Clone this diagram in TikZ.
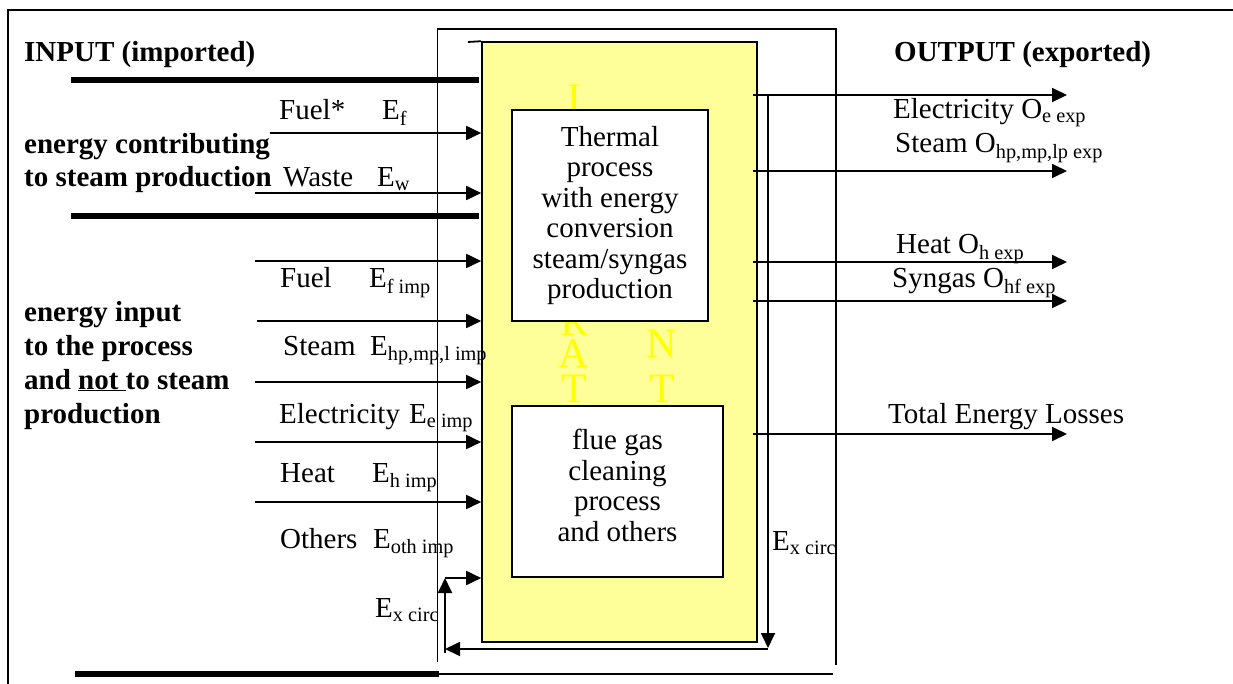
\documentclass[tikz,border=0pt]{standalone}
\usepackage{fontspec}
\setmainfont{Liberation Serif}
\usepackage{tikz}
\usetikzlibrary{arrows.meta,positioning}
\definecolor{plantyellow}{RGB}{255,255,153}
\definecolor{letteryellow}{RGB}{255,255,0}
\newcommand{\elabel}[3]{\makebox[#1][l]{#2}E\textsubscript{#3}}
\tikzset{
  plantbox/.style={rectangle,draw=black,fill=plantyellow,line width=1.6pt,
                   minimum width=275pt,minimum height=600pt,inner sep=0pt},
  procbox/.style={rectangle,draw=black,fill=white,line width=1.6pt,align=center,
                  inner sep=0pt,font=\fontsize{29}{30.5}\selectfont},
  arr/.style={-{Triangle[length=15pt,width=14pt]},line width=1.8pt},
  lbl/.style={anchor=base west,inner sep=0pt,font=\fontsize{29}{33}\selectfont},
  blbl/.style={lbl,font=\fontsize{29}{33}\selectfont\bfseries},
  plantletter/.style={anchor=base,inner sep=0pt,text=letteryellow,
                      font=\fontsize{42}{42}\selectfont},
  thinline/.style={line width=1.8pt},
  bar/.style={line width=5.5pt},
}

\begin{document}
\begin{tikzpicture}[x=1pt,y=-1pt]
  \useasboundingbox (0,0) rectangle (1233,684);
  % frame and system boundary
  \draw[line width=2.5pt] (8,684) -- (8,10) -- (1233,10);
  \draw[thinline] (437.5,662) -- (437.5,29) -- (836,29) -- (836,665);
  \draw[thinline] (439,674) -- (833,674);
  \draw[bar] (71,80) -- (479,80);
  \draw[bar] (71,216) -- (479,216);
  \draw[bar] (75,674) -- (439,674);

  % plant
  \node[plantbox] (plant) at (619.5,342) {};
  \draw[thinline] (468,42) -- (plant.north west);
  \node[plantletter] (pl1) at (574,113) {I};
  \node[plantletter] (pl2) at (574,335) {R};
  \node[plantletter] (pl3) at (574,367) {A};
  \node[plantletter] (pl4) at (574,402) {T};
  \node[plantletter] (pl5) at (662,357) {N};
  \node[plantletter] (pl6) at (662,402) {T};

  \node[procbox,minimum width=196pt,minimum height=211pt] (thermal) at (610,215.5)
    {Thermal\\process\\with energy\\conversion\\steam/syngas\\production};
  \node[procbox,minimum width=211pt,minimum height=171pt,text depth=12pt] (flue) at (617.5,491.5)
    {flue gas\\cleaning\\process\\and others};

  % inputs
  \foreach \y/\x/\n in {133/270/ifs, 193/255/iw, 261/255/if, 321/257/is,
                        382/255/iel, 442/255/ih, 502/255/io}{
    \coordinate (\n) at (\x,\y);
    \draw[arr] (\n) -- (\n -| plant.west);
  }
  \node[blbl] (tin) at (24,62) {INPUT (imported)};
  \node[blbl] (g1a) at (24,154) {energy contributing};
  \node[blbl] (g1b) at (24,187) {to steam production};
  \node[blbl] (g2a) at (24,322) {energy input};
  \node[blbl] (g2b) at (24,355) {to the process};
  \node[blbl] (g2c) at (24,389) {and \underline{not\ }to steam};
  \node[blbl] (g2d) at (24,423) {production};

  \node[lbl] (lfs) at (279,120) {\elabel{103pt}{Fuel*}{f}};
  \node[lbl] (lw) at (283,187) {\elabel{94pt}{Waste}{w}};
  \node[lbl] (lf) at (280,288) {\elabel{89pt}{Fuel}{f imp}};
  \node[lbl] (ls) at (283,355) {\elabel{87pt}{Steam}{hp,mp,l imp}};
  \node[lbl] (lel) at (279,423) {\elabel{130pt}{Electricity}{e imp}};
  \node[lbl] (lh) at (280,482) {\elabel{92pt}{Heat}{h imp}};
  \node[lbl] (lo) at (280,548) {\elabel{93pt}{Others}{oth imp}};

  % outputs
  \foreach \y/\n in {95/oe, 171/os, 262/oh, 301/osg, 434/ol}{
    \coordinate (\n a) at (753,\y);
    \coordinate (\n b) at (1067,\y);
    \draw[arr] (\n a) -- (\n b);
  }
  \node[blbl] (tout) at (894,62) {OUTPUT (exported)};
  \node[lbl] (loe) at (893,119) {Electricity O\textsubscript{e exp}};
  \node[lbl] (los) at (895,153) {Steam O\textsubscript{hp,mp,lp exp}};
  \node[lbl] (loh) at (896,254) {Heat O\textsubscript{h exp}};
  \node[lbl] (losg) at (892,288) {Syngas O\textsubscript{hf exp}};
  \node[lbl] (lol) at (888,423) {Total Energy Losses};

  % circulation loop
  \coordinate (cta) at (768,96);
  \coordinate (ctb) at (768,648);
  \coordinate (cba) at (768,649);
  \coordinate (cbb) at (445,649);
  \coordinate (cla) at (445,653);
  \coordinate (clb) at (445,578);
  \draw[arr] (cta) -- (ctb);
  \draw[arr] (cba) -- (cbb);
  \draw[arr] (cla) -- (clb);
  \draw[arr] (clb) -- (clb -| plant.west);
  \node[lbl] (lcr) at (772,550) {E\textsubscript{x circ}};
  \node[lbl] (lcl) at (375,617) {E\textsubscript{x circ}};
\end{tikzpicture}
\end{document}
